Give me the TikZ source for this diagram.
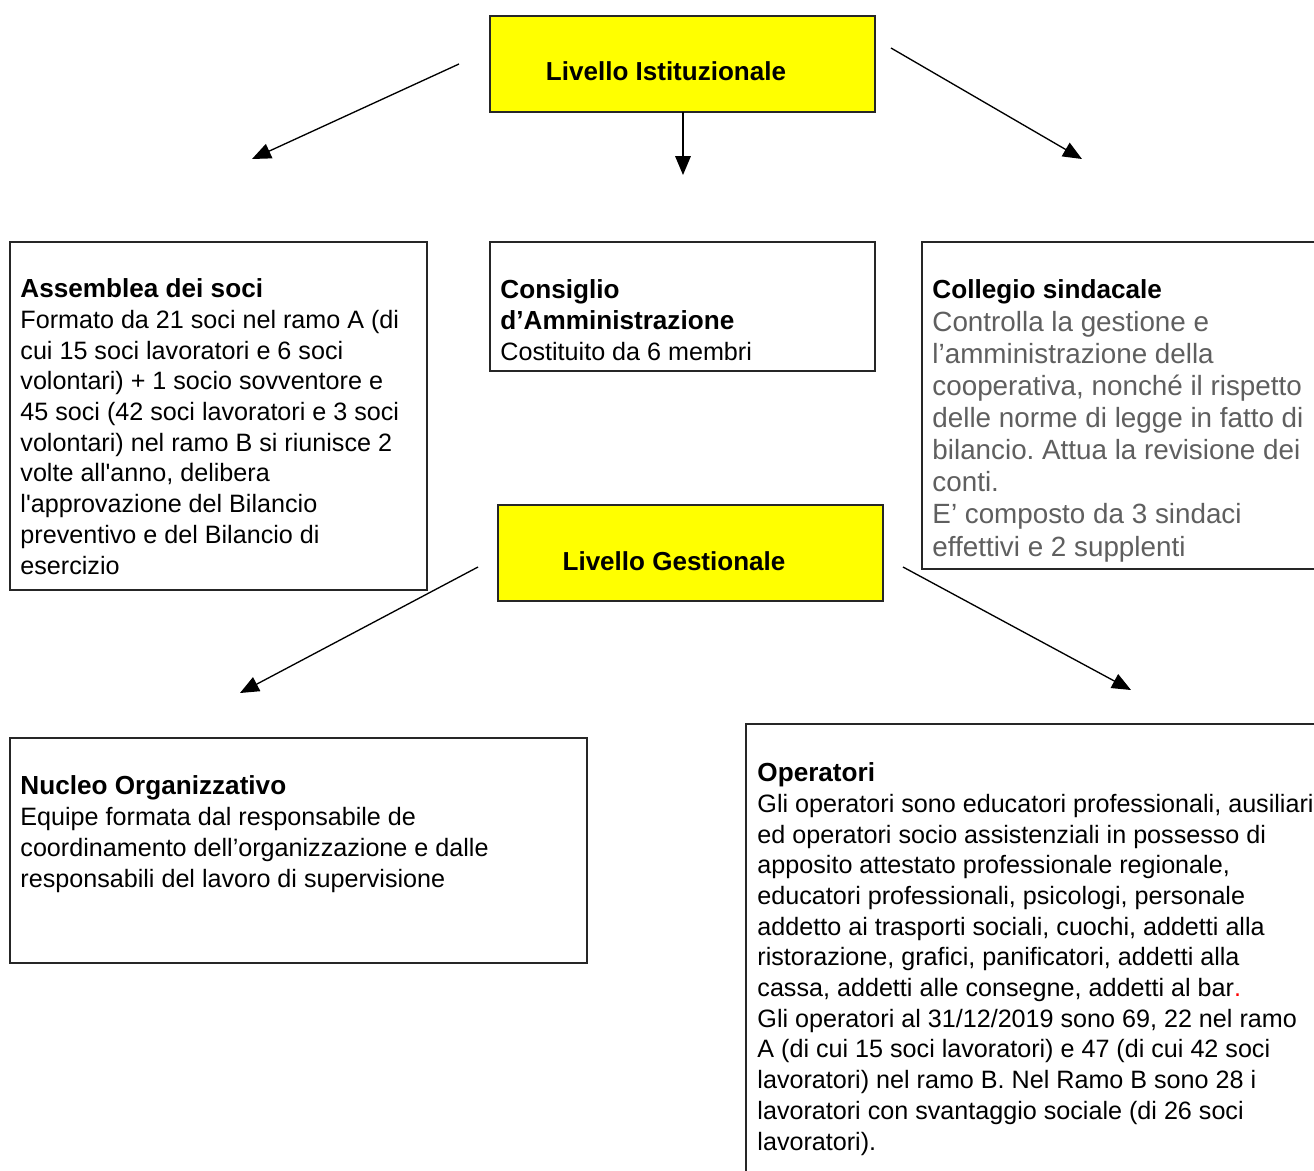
\documentclass[tikz,border=0pt]{standalone}
\usepackage{fontspec}
\setmainfont{Liberation Sans}
\usetikzlibrary{arrows.meta,fit}
\frenchspacing
\definecolor{levelyellow}{RGB}{255,255,0}
\definecolor{notegray}{RGB}{95,95,95}
\newcommand{\boxtitle}[1]{{\fontsize{11.75}{13.8}\selectfont\bfseries #1}}
\tikzset{
  box/.style={draw=black!85, line width=0.5pt, inner sep=0pt},
  levelbox/.style={box, fill=levelyellow},
  boxtext/.style={anchor=base west, inner sep=0pt, align=left, font=\fontsize{11.3}{13.8}\selectfont},
  graytext/.style={boxtext, text=notegray, font=\fontsize{12.5}{14.43}\selectfont},
  leveltext/.style={anchor=base, inner sep=0pt, font=\fontsize{11.7}{13.8}\selectfont\bfseries},
  arr/.style={-{Triangle[length=8.5pt,width=7pt]}, line width=0.6pt}
}
\begin{document}
\begin{tikzpicture}[x=0.4495pt,y=-0.4495pt]
  \clip (0,0) rectangle (1314,1171);
  \fill[white] (0,0) rectangle (1314,1171);

  % livelli
  \node[levelbox, fit={(490,16) (875,112)}] (ist) {};
  \node[leveltext] (istlabel) at (666,81) {Livello Istituzionale};
  \node[levelbox, fit={(498,505) (883,601)}] (gest) {};
  \node[leveltext] (gestlabel) at (674,570) {Livello Gestionale};

  % organi (base = ultima riga)
  \node[box, fit={(10,242) (427,590)}] (assemblea) {};
  \node[boxtext] (assembleatext) at (20,574) {\boxtitle{Assemblea dei soci}\\
    Formato da 21 soci nel ramo A (di\\
    cui 15 soci lavoratori e 6 soci\\
    volontari) + 1 socio sovventore e\\
    45 soci (42 soci lavoratori e 3 soci\\
    volontari) nel ramo B si riunisce 2\\
    volte all\textquotesingle anno, delibera\\
    l\textquotesingle approvazione del Bilancio\\
    preventivo e del Bilancio di\\
    esercizio};

  \node[box, fit={(490,242) (875,371)}] (consiglio) {};
  \node[boxtext] (consigliotext) at (500,360) {\boxtitle{Consiglio}\\
    \boxtitle{d’Amministrazione}\\
    Costituito da 6 membri};

  \node[box, fit={(922,242) (1340,569)}] (collegio) {};
  \node[boxtext] (collegiotitle) at (932,298) {\boxtitle{Collegio sindacale}};
  \node[graytext] (collegiotext) at (932,556) {Controlla la gestione e\\
    l’amministrazione della\\
    cooperativa, nonché il rispetto\\
    delle norme di legge in fatto di\\
    bilancio. Attua la revisione dei\\
    conti.\\
    E’ composto da 3 sindaci\\
    effettivi e 2 supplenti};

  \node[box, fit={(10,738) (587,963)}] (nucleo) {};
  \node[boxtext] (nucleotext) at (20,887) {\boxtitle{Nucleo Organizzativo}\\
    Equipe formata dal responsabile de\\
    coordinamento dell’organizzazione e dalle\\
    responsabili del lavoro di supervisione};

  \node[box, fit={(746,724) (1340,1200)}] (operatori) {};
  \node[boxtext] (operatoritext) at (757,1150) {\boxtitle{Operatori}\\
    Gli operatori sono educatori professionali, ausiliari\\
    ed operatori socio assistenziali in possesso di\\
    apposito attestato professionale regionale,\\
    educatori professionali, psicologi, personale\\
    addetto ai trasporti sociali, cuochi, addetti alla\\
    ristorazione, grafici, panificatori, addetti alla\\
    cassa, addetti alle consegne, addetti al bar{\color{red}.}\\
    Gli operatori al 31/12/2019 sono 69, 22 nel ramo\\
    A (di cui 15 soci lavoratori) e 47 (di cui 42 soci\\
    lavoratori) nel ramo B. Nel Ramo B sono 28 i\\
    lavoratori con svantaggio sociale (di 26 soci\\
    lavoratori).};

  % frecce
  \coordinate (istleft) at (459,64);
  \coordinate (istleftend) at (252,159);
  \coordinate (istdown) at (683,112);
  \coordinate (istdownend) at (683,175);
  \coordinate (istright) at (891,48);
  \coordinate (istrightend) at (1082,159);
  \coordinate (gestleft) at (478,567);
  \coordinate (gestleftend) at (240,693);
  \coordinate (gestright) at (903,567);
  \coordinate (gestrightend) at (1131,690);
  \draw[arr] (istleft) -- (istleftend);
  \draw[arr] (istdown) -- (istdownend);
  \draw[arr] (istright) -- (istrightend);
  \draw[arr] (gestleft) -- (gestleftend);
  \draw[arr] (gestright) -- (gestrightend);
\end{tikzpicture}
\end{document}
